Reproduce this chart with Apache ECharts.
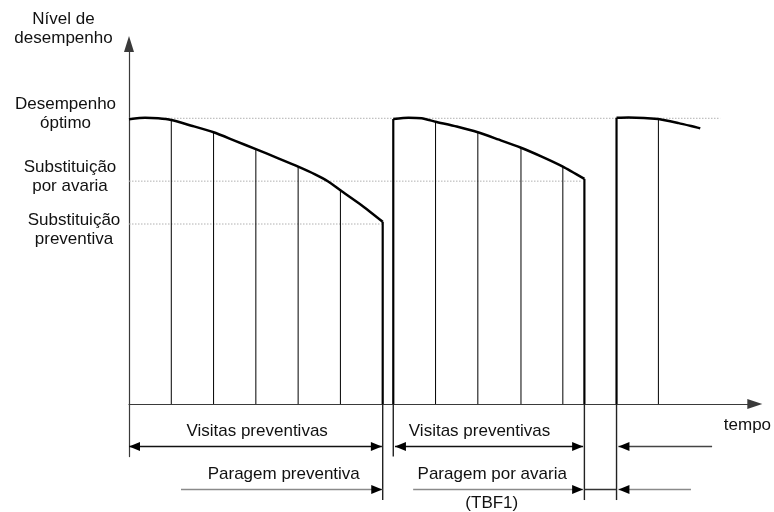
<!DOCTYPE html>
<html><head><meta charset="utf-8">
<script src="https://cdn.jsdelivr.net/npm/echarts@6/dist/echarts.min.js"></script>
<style>html,body{margin:0;padding:0;background:#fff}#c{width:774px;height:512px}</style>
</head><body><div id="c"></div>
<script>
// time in visit intervals, performance level in % of optimum
const cycle1Time  = [0, 0.38, 0.69, 1, 1.48, 2, 2.51, 3, 3.53, 4, 4.4, 4.71, 5, 5.5, 6];
const cycle1Level = [99.7, 100.2, 100, 99.4, 97.4, 95.1, 92.1, 89.2, 86.0, 83.1, 80.4, 77.9, 74.8, 69.6, 63.8];
const cycle2Time  = [6.25, 6.61, 6.92, 7.25, 7.75, 8.25, 8.73, 9.27, 9.76, 10.26, 10.77];
const cycle2Level = [99.75, 100.2, 100, 98.8, 97.1, 95.1, 92.6, 89.7, 86.6, 83.1, 78.8];
const cycle3Time  = [11.53, 11.81, 12.52, 13.0, 13.51];
const cycle3Level = [100.2, 100.3, 99.75, 98.3, 96.5];

const visitTime  = [1, 2, 3, 4, 5, 7.25, 8.25, 9.27, 10.26, 12.52];
const visitLevel = [99.4, 95.1, 89.2, 83.1, 74.8, 98.8, 95.1, 89.7, 83.1, 99.75];

const cycleEdgeTime  = [6, 6.25, 10.77, 11.53];
const cycleEdgeLevel = [63.8, 99.75, 78.8, 100.2];
const cycleEdgeDepth = [-33.6, -18.4, -33.6, -33.6];

const refLevels = [100, 78, 63];
const refLabels = ['Desempenho\nóptimo', 'Substituição\npor avaria', 'Substituição\npreventiva'];
const refEnd    = [13.98, 10.7, 6];

const visitSpans  = [[0, 5.98], [6.29, 10.74]];
const visitReturn = [[13.79, 11.575]];
const stopSpans   = [[1.23, 5.99], [6.72, 10.74], [13.29, 11.575]];
const stopGap     = [[10.77, 11.53]];

const yName = 'Nível de\ndesempenho';
const xName = 'tempo';
const rowTexts = ['Visitas preventivas', 'Visitas preventivas', 'Paragem preventiva', 'Paragem por avaria', '(TBF1)'];
const rowTextTime = [3.03, 8.29, 3.66, 8.59, 8.58];

const FONT = "'Liberation Sans', Arial, sans-serif";
const TXT = '#111';
const visitRowY = -14.9, stopRowY = -29.9;
const rowTextY = [-9.6, -9.6, -24.5, -24.5, -34.8];
const refLabelDx = [-63.5, -59, -55];
const refLabelDy = [-4.8, -4.5, 5.5];

const zip = (a, b) => a.map((v, i) => [v, b[i]]);

function vlineRender(width, color) {
  return function (params, api) {
    const a = api.coord([api.value(0), 0]);
    const b = api.coord([api.value(0), api.value(1)]);
    return { type: 'line', shape: { x1: a[0], y1: a[1], x2: b[0], y2: b[1] },
      style: { stroke: color, lineWidth: width } };
  };
}
function arrowRender(y, lineColor, both, heads) {
  return function (params, api) {
    const p1 = api.coord([api.value(0), y]);
    const p2 = api.coord([api.value(1), y]);
    const children = [{ type: 'line', shape: { x1: p1[0], y1: p1[1], x2: p2[0], y2: p2[1] },
      style: { stroke: lineColor, lineWidth: 1.5 } }];
    const head = (tip, from) => {
      const d = Math.sign(tip[0] - from[0]); const L = 11, W = 4.5;
      return { type: 'polygon', shape: { points: [[tip[0], tip[1]], [tip[0] - d * L, tip[1] - W], [tip[0] - d * L, tip[1] + W]] },
        style: { fill: '#000' } };
    };
    if (heads) {
      children.push(head(p2, p1));
      if (both) children.push(head(p1, p2));
    }
    return { type: 'group', children };
  };
}
const curveSeries = (t, v) => ({ type: 'line', z: 4, clip: false, data: zip(t, v), smooth: 0.2,
  showSymbol: false, symbol: 'none', lineStyle: { color: '#000', width: 2.5 } });

const option = {
  animation: false,
  backgroundColor: '#fff',
  grid: { left: 129, right: 19.2, top: 44, bottom: 55.4, containLabel: false, outerBoundsMode: 'none' },
  xAxis: {
    type: 'value', min: 0, max: 14.8,
    name: xName, nameLocation: 'end', nameGap: -31,
    nameTextStyle: { fontSize: 17, fontFamily: FONT, color: TXT, verticalAlign: 'top', lineHeight: 17, padding: [13, 0, 0, 0] },
    axisLine: { show: true, onZero: true, symbol: ['none', 'triangle'], symbolSize: [10, 15],
      lineStyle: { color: '#3a3a3a', width: 1.2 } },
    axisTick: { show: false }, axisLabel: { show: false }, splitLine: { show: false }
  },
  yAxis: {
    type: 'value', min: -18.4, max: 126,
    name: yName, nameLocation: 'end', nameGap: -3.5,
    nameTextStyle: { fontSize: 17, fontFamily: FONT, color: TXT, lineHeight: 19, align: 'center', padding: [0, 131, 0, 0] },
    axisLine: { show: true, onZero: true, symbol: ['none', 'triangle'], symbolSize: [10, 16],
      lineStyle: { color: '#3a3a3a', width: 1.2 } },
    axisTick: { show: false }, splitLine: { show: false }, axisLabel: { show: false }
  },
  series: [
    { type: 'custom', z: 1, clip: false, data: zip(refLevels, refEnd),
      renderItem: function (params, api) {
        const a = api.coord([0, api.value(0)]);
        const b = api.coord([api.value(1), api.value(0)]);
        return { type: 'group', children: [
          { type: 'line', shape: { x1: a[0], y1: a[1], x2: b[0], y2: b[1] },
            style: { stroke: '#b0b0b0', lineWidth: 1, lineDash: [1.5, 1.5] } },
          { type: 'text', x: a[0] + refLabelDx[params.dataIndex], y: a[1] + refLabelDy[params.dataIndex],
            style: { text: refLabels[params.dataIndex], fontSize: 17, fontFamily: FONT, fill: TXT, lineHeight: 19,
              align: 'center', verticalAlign: 'middle' } }
        ] };
      } },
    { type: 'custom', z: 2, clip: false, data: zip(visitTime, visitLevel), renderItem: vlineRender(1, '#000') },
    { type: 'custom', z: 3, clip: false, data: zip(cycleEdgeTime, cycleEdgeLevel), renderItem: vlineRender(2.2, '#000') },
    { type: 'custom', z: 3, clip: false, data: zip(cycleEdgeTime, cycleEdgeDepth), renderItem: vlineRender(1.4, '#222') },
    curveSeries(cycle1Time, cycle1Level),
    curveSeries(cycle2Time, cycle2Level),
    curveSeries(cycle3Time, cycle3Level),
    { type: 'custom', z: 5, clip: false, data: visitSpans, encode: { x: [0, 1] }, renderItem: arrowRender(visitRowY, '#111', true, true) },
    { type: 'custom', z: 5, clip: false, data: visitReturn, encode: { x: [0, 1] }, renderItem: arrowRender(visitRowY, '#444', false, true) },
    { type: 'custom', z: 5, clip: false, data: stopSpans, encode: { x: [0, 1] }, renderItem: arrowRender(stopRowY, '#8a8a8a', false, true) },
    { type: 'custom', z: 5, clip: false, data: stopGap, encode: { x: [0, 1] }, renderItem: arrowRender(stopRowY, '#333', false, false) },
    { type: 'custom', z: 6, clip: false, data: zip(rowTextTime, rowTextY),
      renderItem: function (params, api) {
        const p = api.coord([api.value(0), api.value(1)]);
        return { type: 'text', x: p[0], y: p[1],
          style: { text: rowTexts[params.dataIndex], fontSize: 17, fontFamily: FONT, fill: TXT, align: 'center', verticalAlign: 'middle' } };
      } }
  ]
};
const chart = echarts.init(document.getElementById('c'), null, { renderer: 'canvas' });
chart.setOption(option);
</script></body></html>
